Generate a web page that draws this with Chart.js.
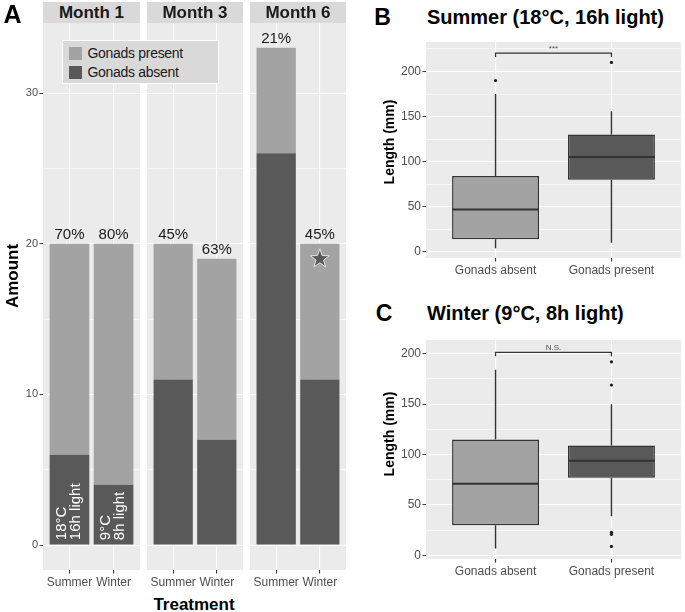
<!DOCTYPE html>
<html>
<head>
<meta charset="utf-8">
<title>Gonads by treatment</title>
<script src="https://cdn.jsdelivr.net/npm/chart.js@4.4.1/dist/chart.umd.min.js"></script>
<style>
  html, body { margin: 0; padding: 0; background: #ffffff; }
  #fig { position: relative; width: 685px; height: 612px; overflow: hidden; font-family: "Liberation Sans", Arial, sans-serif; }
  #fig canvas { position: absolute; }
  .txt { position: absolute; white-space: nowrap; line-height: 1; color: #000; font-weight: bold; transform: translate(-50%, -50%); }
  .rot { transform: translate(-50%, -50%) rotate(-90deg); }
  .left { transform: translate(0, -50%); }
  .strip { position: absolute; top: 2px; height: 21px; line-height: 21px; background: #d9d9d9; text-align: center; font-weight: bold; font-size: 17px; color: #1a1a1a; }
  .legend { position: absolute; left: 62px; top: 40px; width: 155px; height: 42px; background: #d9d9d9; border: 1.5px solid #ffffff; }
  .key { position: absolute; left: 5.5px; width: 13px; height: 13px; }
  .keytxt { position: absolute; left: 24.5px; font-size: 14px; letter-spacing: -0.3px; line-height: 1; color: #1a1a1a; white-space: nowrap; transform: translateY(-50%); }
</style>
</head>
<body>
<div id="fig">
  <canvas id="facet0" width="140" height="567" style="left:0;top:23px"></canvas>
  <canvas id="facet1" width="96" height="567" style="left:147px;top:23px"></canvas>
  <canvas id="facet2" width="96" height="567" style="left:250px;top:23px"></canvas>
  <canvas id="summerBox" width="290" height="240" style="left:395px;top:38px"></canvas>
  <canvas id="winterBox" width="290" height="243" style="left:395px;top:336px"></canvas>

  <div class="txt" style="left:12.5px;top:14px;font-size:25px">A</div>
  <div class="txt" style="left:382.5px;top:16.5px;font-size:23px">B</div>
  <div class="txt" style="left:384px;top:312.5px;font-size:23px">C</div>
  <div class="txt left" style="left:427px;top:17px;font-size:20px">Summer (18°C, 16h light)</div>
  <div class="txt left" style="left:427px;top:313px;font-size:20px">Winter (9°C, 8h light)</div>
  <div class="txt rot" style="left:12px;top:276px;font-size:17px">Amount</div>
  <div class="txt" style="left:194px;top:604px;font-size:17px">Treatment</div>
  <div class="txt rot" style="left:389px;top:142px;font-size:14px">Length (mm)</div>
  <div class="txt rot" style="left:389px;top:434px;font-size:14px">Length (mm)</div>
  <div class="legend" id="legend"></div>
</div>

<script>
// PANEL A - NUMBER OF ANIMALS PER MONTH, [SUMMER, WINTER]
var months = ['Month 1', 'Month 3', 'Month 6'];
var treatments = ['Summer', 'Winter'];
var absentMonth1 = [6, 4];
var absentMonth3 = [11, 7];
var absentMonth6 = [26, 11];
var presentMonth1 = [14, 16];
var presentMonth3 = [9, 12];
var presentMonth6 = [7, 9];
var conditionText = [['18°C', '16h light'], ['9°C', '8h light']];
var amountTicks = [0, 5, 10, 15, 20, 25, 30];
// STAR MARK ON MONTH 6 / WINTER
var starMonth = 2, starTreatment = 1, starValue = 19;

// PANELS B AND C - LENGTH (MM), [GONADS ABSENT, GONADS PRESENT]
var groups = ['Gonads absent', 'Gonads present'];
var summerLow = [4, 10];
var summerQ1 = [14, 80];
var summerMedian = [47, 105];
var summerQ3 = [84, 130];
var summerHigh = [175, 156];
var summerOutliers = [[190], [210]];
var winterLow = [7, 39];
var winterQ1 = [30, 77];
var winterMedian = [71, 94];
var winterQ3 = [115, 109];
var winterHigh = [184, 150];
var winterOutliers = [[], [192, 169, 23, 21, 9]];
var lengthTicks = [0, 25, 50, 75, 100, 125, 150, 175, 200, 225];
var summerSignif = '***';
var winterSignif = 'N.S.';

var absentCounts = [absentMonth1, absentMonth3, absentMonth6];
var presentCounts = [presentMonth1, presentMonth3, presentMonth6];

var presentColor = '#a3a3a3';
var absentColor = '#595959';

Chart.defaults.font.family = '"Liberation Sans", Arial, sans-serif';
Chart.defaults.color = '#4d4d4d';

// GREY PANEL BACKGROUND (GGPLOT STYLE)
var panelBg = {
  id: 'panelBg',
  beforeDraw: function (chart) {
    var a = chart.chartArea, ctx = chart.ctx;
    ctx.save();
    ctx.fillStyle = '#ebebeb';
    ctx.fillRect(a.left, a.top, a.right - a.left, a.bottom - a.top);
    ctx.restore();
  }
};

function yGrid(major, showTicks) {
  return {
    color: '#ffffff',
    lineWidth: function (c) { return c.tick && c.tick.value % major === 0 ? 1.1 : 0.55; },
    tickColor: function (c) { return c.tick && c.tick.value % major === 0 ? '#333333' : 'rgba(0,0,0,0)'; },
    tickLength: 3.5,
    tickWidth: 1,
    drawTicks: showTicks
  };
}

function xAxis(labels) {
  return {
    type: 'linear', min: 0.4, max: 2.6, stacked: true, offset: false,
    afterBuildTicks: function (s) { s.ticks = [{ value: 1 }, { value: 2 }]; },
    ticks: { callback: function (v) { return labels[v - 1]; }, font: { size: 12 }, color: '#4d4d4d', padding: 1.5, autoSkip: false, maxRotation: 0 },
    grid: { color: '#ffffff', lineWidth: 1.1, tickColor: '#333333', tickLength: 3.5, offset: false },
    border: { display: false },
    afterFit: function (s) { s.height = 20; s.paddingLeft = 0; s.paddingRight = 0; }
  };
}

// PERCENT OF GONADS PRESENT ABOVE EACH BAR
function percentPlugin(m) {
  return {
    id: 'percentLabels',
    afterDatasetsDraw: function (chart) {
      var ctx = chart.ctx;
      var bars = chart.getDatasetMeta(1).data;
      ctx.save();
      ctx.font = '15px "Liberation Sans", Arial, sans-serif';
      ctx.fillStyle = '#1a1a1a';
      ctx.textAlign = 'center';
      ctx.textBaseline = 'alphabetic';
      bars.forEach(function (bar, i) {
        var total = absentCounts[m][i] + presentCounts[m][i];
        var pct = Math.round(presentCounts[m][i] / total * 100) + '%';
        ctx.fillText(pct, bar.x, bar.y - 4.5);
      });
      ctx.restore();
    }
  };
}

// ROTATED CONDITION TEXT INSIDE MONTH 1 BARS
var conditionPlugin = {
  id: 'conditionText',
  afterDatasetsDraw: function (chart) {
    var ctx = chart.ctx;
    var bars = chart.getDatasetMeta(0).data;
    var base = chart.scales.y.getPixelForValue(0) - 5;
    ctx.save();
    ctx.font = '15px "Liberation Sans", Arial, sans-serif';
    ctx.fillStyle = '#ffffff';
    ctx.textAlign = 'left';
    ctx.textBaseline = 'alphabetic';
    bars.forEach(function (bar, i) {
      var left = bar.x - bar.width / 2;
      conditionText[i].forEach(function (line, k) {
        ctx.save();
        ctx.translate(left + 16.5 + k * 13.5, base);
        ctx.rotate(-Math.PI / 2);
        ctx.fillText(line, 0, 0);
        ctx.restore();
      });
    });
    ctx.restore();
  }
};

var starPlugin = {
  id: 'starMark',
  afterDatasetsDraw: function (chart) {
    var ctx = chart.ctx;
    var cx = chart.scales.x.getPixelForValue(starTreatment + 1);
    var cy = chart.scales.y.getPixelForValue(starValue);
    var R = 10, r = 4;
    ctx.save();
    ctx.beginPath();
    for (var k = 0; k < 10; k++) {
      var ang = -Math.PI / 2 + k * Math.PI / 5;
      var rad = k % 2 === 0 ? R : r;
      var px = cx + rad * Math.cos(ang), py = cy + rad * Math.sin(ang);
      if (k === 0) ctx.moveTo(px, py); else ctx.lineTo(px, py);
    }
    ctx.closePath();
    ctx.fillStyle = absentColor;
    ctx.fill();
    ctx.lineWidth = 1;
    ctx.strokeStyle = '#e6e6e6';
    ctx.stroke();
    ctx.restore();
  }
};

function facetChart(m) {
  var first = m === 0;
  var plugins = [panelBg, percentPlugin(m)];
  if (first) plugins.push(conditionPlugin);
  if (m === starMonth) plugins.push(starPlugin);
  return new Chart(document.getElementById('facet' + m), {
    type: 'bar',
    data: {
      datasets: [
        { label: 'Gonads absent', data: absentCounts[m].map(function (v, i) { return { x: i + 1, y: v }; }), backgroundColor: absentColor, stack: 's' },
        { label: 'Gonads present', data: presentCounts[m].map(function (v, i) { return { x: i + 1, y: v }; }), backgroundColor: presentColor, stack: 's' }
      ]
    },
    options: {
      responsive: false, animation: false, devicePixelRatio: 1,
      datasets: { bar: { categoryPercentage: 1, barPercentage: 0.9, borderWidth: 0 } },
      layout: { padding: 0 },
      plugins: { legend: { display: false }, tooltip: { enabled: false } },
      scales: {
        x: xAxis(treatments),
        y: {
          min: -1.65, max: 34.65, stacked: true,
          afterBuildTicks: function (s) { s.ticks = amountTicks.map(function (v) { return { value: v }; }); },
          ticks: { display: first, callback: function (v) { return v % 10 === 0 ? v : ''; }, font: { size: 11 }, color: '#4d4d4d', padding: 1.5 },
          grid: yGrid(10, first),
          border: { display: false },
          afterFit: function (s) { s.width = first ? 43 : 0; s.paddingTop = 0; s.paddingBottom = 0; }
        }
      }
    },
    plugins: plugins
  });
}

// WHISKERS, MEDIANS AND SIGNIFICANCE BRACKET
function boxParts(low, q1, med, q3, high, outliers, sig) {
  return {
    id: 'boxParts',
    afterDatasetsDraw: function (chart) {
      var ctx = chart.ctx, xs = chart.scales.x, ys = chart.scales.y;
      var bars = chart.getDatasetMeta(0).data;
      ctx.save();
      ctx.strokeStyle = '#333333';
      bars.forEach(function (bar, i) {
        var x = bar.x, half = bar.width / 2;
        ctx.lineWidth = 1.4;
        ctx.beginPath();
        ctx.moveTo(x, ys.getPixelForValue(q3[i]));
        ctx.lineTo(x, ys.getPixelForValue(high[i]));
        ctx.moveTo(x, ys.getPixelForValue(q1[i]));
        ctx.lineTo(x, ys.getPixelForValue(low[i]));
        ctx.stroke();
        ctx.lineWidth = 2;
        ctx.beginPath();
        ctx.moveTo(x - half, ys.getPixelForValue(med[i]));
        ctx.lineTo(x + half, ys.getPixelForValue(med[i]));
        ctx.stroke();
      });
      var all = low.concat(high);
      outliers.forEach(function (l) { all = all.concat(l); });
      var top = Math.max.apply(null, all), bottom = Math.min.apply(null, all);
      var level = top + 0.05 * (top - bottom);
      var tip = 0.02 * (top - bottom);
      var x1 = xs.getPixelForValue(1), x2 = xs.getPixelForValue(2);
      var yl = ys.getPixelForValue(level), yt = ys.getPixelForValue(level - tip);
      ctx.lineWidth = 1.2;
      ctx.beginPath();
      ctx.moveTo(x1, yt); ctx.lineTo(x1, yl); ctx.lineTo(x2, yl); ctx.lineTo(x2, yt);
      ctx.stroke();
      ctx.font = '8px "Liberation Sans", Arial, sans-serif';
      ctx.fillStyle = '#4d4d4d';
      ctx.textAlign = 'center';
      ctx.textBaseline = 'alphabetic';
      ctx.fillText(sig, (x1 + x2) / 2, yl - 2);
      ctx.restore();
    }
  };
}

function boxChart(id, yMin, yMax, low, q1, med, q3, high, outliers, sig) {
  var outlierPoints = [];
  outliers.forEach(function (list, i) {
    list.forEach(function (v) { outlierPoints.push({ x: i + 1, y: v }); });
  });
  return new Chart(document.getElementById(id), {
    type: 'bar',
    data: {
      datasets: [
        {
          label: 'box',
          data: groups.map(function (g, i) { return { x: i + 1, y: [q1[i], q3[i]] }; }),
          backgroundColor: [presentColor, absentColor],
          borderColor: '#333333', borderWidth: 1.5, borderSkipped: false
        },
        {
          type: 'scatter', label: 'outliers', data: outlierPoints,
          pointRadius: 1.6, pointBackgroundColor: '#1a1a1a', pointBorderWidth: 0
        }
      ]
    },
    options: {
      responsive: false, animation: false, devicePixelRatio: 1,
      datasets: { bar: { categoryPercentage: 1, barPercentage: 0.75 } },
      layout: { padding: { right: 2 } },
      plugins: { legend: { display: false }, tooltip: { enabled: false } },
      scales: {
        x: xAxis(groups),
        y: {
          min: yMin, max: yMax,
          afterBuildTicks: function (s) {
            s.ticks = lengthTicks.filter(function (v) { return v <= yMax; }).map(function (v) { return { value: v }; });
          },
          ticks: { callback: function (v) { return v % 50 === 0 ? v : ''; }, font: { size: 12 }, color: '#4d4d4d', padding: 1.5 },
          grid: yGrid(50, true),
          border: { display: false },
          afterFit: function (s) { s.width = 31; s.paddingTop = 0; s.paddingBottom = 0; }
        }
      }
    },
    plugins: [panelBg, boxParts(low, q1, med, q3, high, outliers, sig)]
  });
}

// FACET STRIPS
var stripLeft = [43, 147, 250], stripWidth = [97, 96, 96];
var fig = document.getElementById('fig');
months.forEach(function (m, i) {
  var d = document.createElement('div');
  d.className = 'strip';
  d.style.left = stripLeft[i] + 'px';
  d.style.width = stripWidth[i] + 'px';
  d.textContent = m;
  fig.appendChild(d);
});

// LEGEND (PRESENT ON TOP, ABSENT BELOW)
var legend = document.getElementById('legend');
[['Gonads present', presentColor], ['Gonads absent', absentColor]].forEach(function (item, k) {
  var key = document.createElement('div');
  key.className = 'key';
  key.style.top = (5.5 + k * 19) + 'px';
  key.style.background = item[1];
  legend.appendChild(key);
  var t = document.createElement('div');
  t.className = 'keytxt';
  t.style.top = (12 + k * 19) + 'px';
  t.textContent = item[0];
  legend.appendChild(t);
});

months.forEach(function (m, i) { facetChart(i); });
boxChart('summerBox', -6.9, 232.7, summerLow, summerQ1, summerMedian, summerQ3, summerHigh, summerOutliers, summerSignif);
boxChart('winterBox', -3.5, 213.6, winterLow, winterQ1, winterMedian, winterQ3, winterHigh, winterOutliers, winterSignif);
</script>
</body>
</html>
